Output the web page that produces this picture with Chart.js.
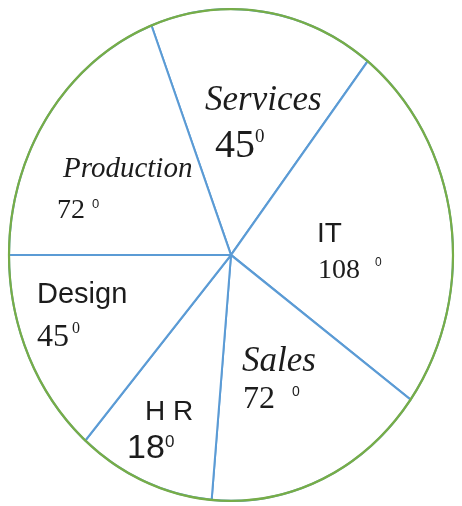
<!DOCTYPE html>
<html>
<head>
<meta charset="utf-8">
<title>Departments pie</title>
<script src="https://cdn.jsdelivr.net/npm/chart.js@4.4.1/dist/chart.umd.min.js"></script>
<style>
    html, body { margin: 0; padding: 0; background: #ffffff; }
    #chartContainer { width: 462px; height: 506px; }
</style>
</head>
<body>
<div id="chartContainer"><canvas id="myChart" width="462" height="506"></canvas></div>
<script>
"use strict";

// clockwise from the top, as drawn in the picture
const DEPARTMENTS = ["Services", "IT", "Sales", "H R", "Design", "Production"];
const DRAWN_ANGLES = [59, 88, 59, 36, 49, 69];          // slice sizes as drawn
const DEGREE_LABELS = ["45", "108", "72", "18", "45", "72"]; // numbers written on the slices
const START_ANGLE = -21;

const LINE_BLUE = "#5b9bd5";
const RIM_GREEN = "#77ad47";
const INK = "#1c1c1c";
const Y_STRETCH = 247 / 223;   // the picture is an ellipse, a bit taller than wide

// where each label sits and how it looks (x, baseline y)
const LABEL_LAYOUT = [
    { name: [205, 110, "italic 35px 'Liberation Serif'"], num: [215, 157, "40px 'Liberation Serif'"], sup: [255, 142, "19px 'Liberation Serif'"] },
    { name: [317, 242, "28px 'Liberation Sans'"],         num: [318, 278, "28px 'Liberation Serif'"], sup: [375, 266, "12px 'Liberation Sans'"] },
    { name: [242, 371, "italic 35px 'Liberation Serif'"], num: [243, 408, "32px 'Liberation Serif'"], sup: [292, 396, "14px 'Liberation Sans'"] },
    { name: [145, 420, "28px 'Liberation Sans'"],         num: [127, 458, "34px 'Liberation Sans'"],  sup: [165, 447, "17px 'Liberation Sans'"] },
    { name: [37, 303, "29px 'Liberation Sans'"],          num: [37, 346, "32px 'Liberation Serif'"], sup: [72, 333, "16px 'Liberation Serif'"] },
    { name: [63, 177, "italic 29px 'Liberation Serif'"],  num: [57, 218, "28px 'Liberation Serif'"], sup: [92, 208, "13px 'Liberation Sans'"] }
];

document.addEventListener("DOMContentLoaded", init);

function init()
{
    const stretchPlugin = {
        id: "stretch",
        beforeDatasetsDraw(chart) {
            const arc = chart.getDatasetMeta(0).data[0];
            const ctx = chart.ctx;
            ctx.save();
            ctx.translate(arc.x, arc.y);
            ctx.scale(1, Y_STRETCH);
            ctx.translate(-arc.x, -arc.y);
        },
        afterDatasetsDraw(chart) {
            const arc = chart.getDatasetMeta(0).data[0];
            const ctx = chart.ctx;
            // green rim over the outer edge
            ctx.beginPath();
            ctx.arc(arc.x, arc.y, arc.outerRadius, 0, Math.PI * 2);
            ctx.lineWidth = 2.2;
            ctx.strokeStyle = RIM_GREEN;
            ctx.stroke();
            ctx.restore();
        }
    };

    const labelPlugin = {
        id: "sliceLabels",
        afterDraw(chart) {
            const ctx = chart.ctx;
            ctx.save();
            ctx.fillStyle = INK;
            ctx.textAlign = "left";
            ctx.textBaseline = "alphabetic";
            DEPARTMENTS.forEach((name, i) => {
                const lay = LABEL_LAYOUT[i];
                ctx.font = lay.name[2];
                ctx.fillText(name, lay.name[0], lay.name[1]);
                ctx.font = lay.num[2];
                ctx.fillText(DEGREE_LABELS[i], lay.num[0], lay.num[1]);
                ctx.font = lay.sup[2];
                ctx.fillText("0", lay.sup[0], lay.sup[1]);
            });
            ctx.restore();
        }
    };

    const data = {
        labels: DEPARTMENTS,
        datasets: [{
            data: DRAWN_ANGLES,
            backgroundColor: "#ffffff",
            borderColor: LINE_BLUE,
            borderWidth: 2,
            hoverOffset: 0
        }]
    };

    const config = {
        type: "pie",
        data: data,
        options: {
            responsive: false,
            animation: false,
            rotation: START_ANGLE,
            events: [],
            layout: { padding: { left: 8, right: 8, top: 8, bottom: 4 } },
            plugins: {
                legend: { display: false },
                tooltip: { enabled: false }
            }
        },
        plugins: [stretchPlugin, labelPlugin]
    };

    new Chart(document.getElementById("myChart"), config);
}
</script>
</body>
</html>
